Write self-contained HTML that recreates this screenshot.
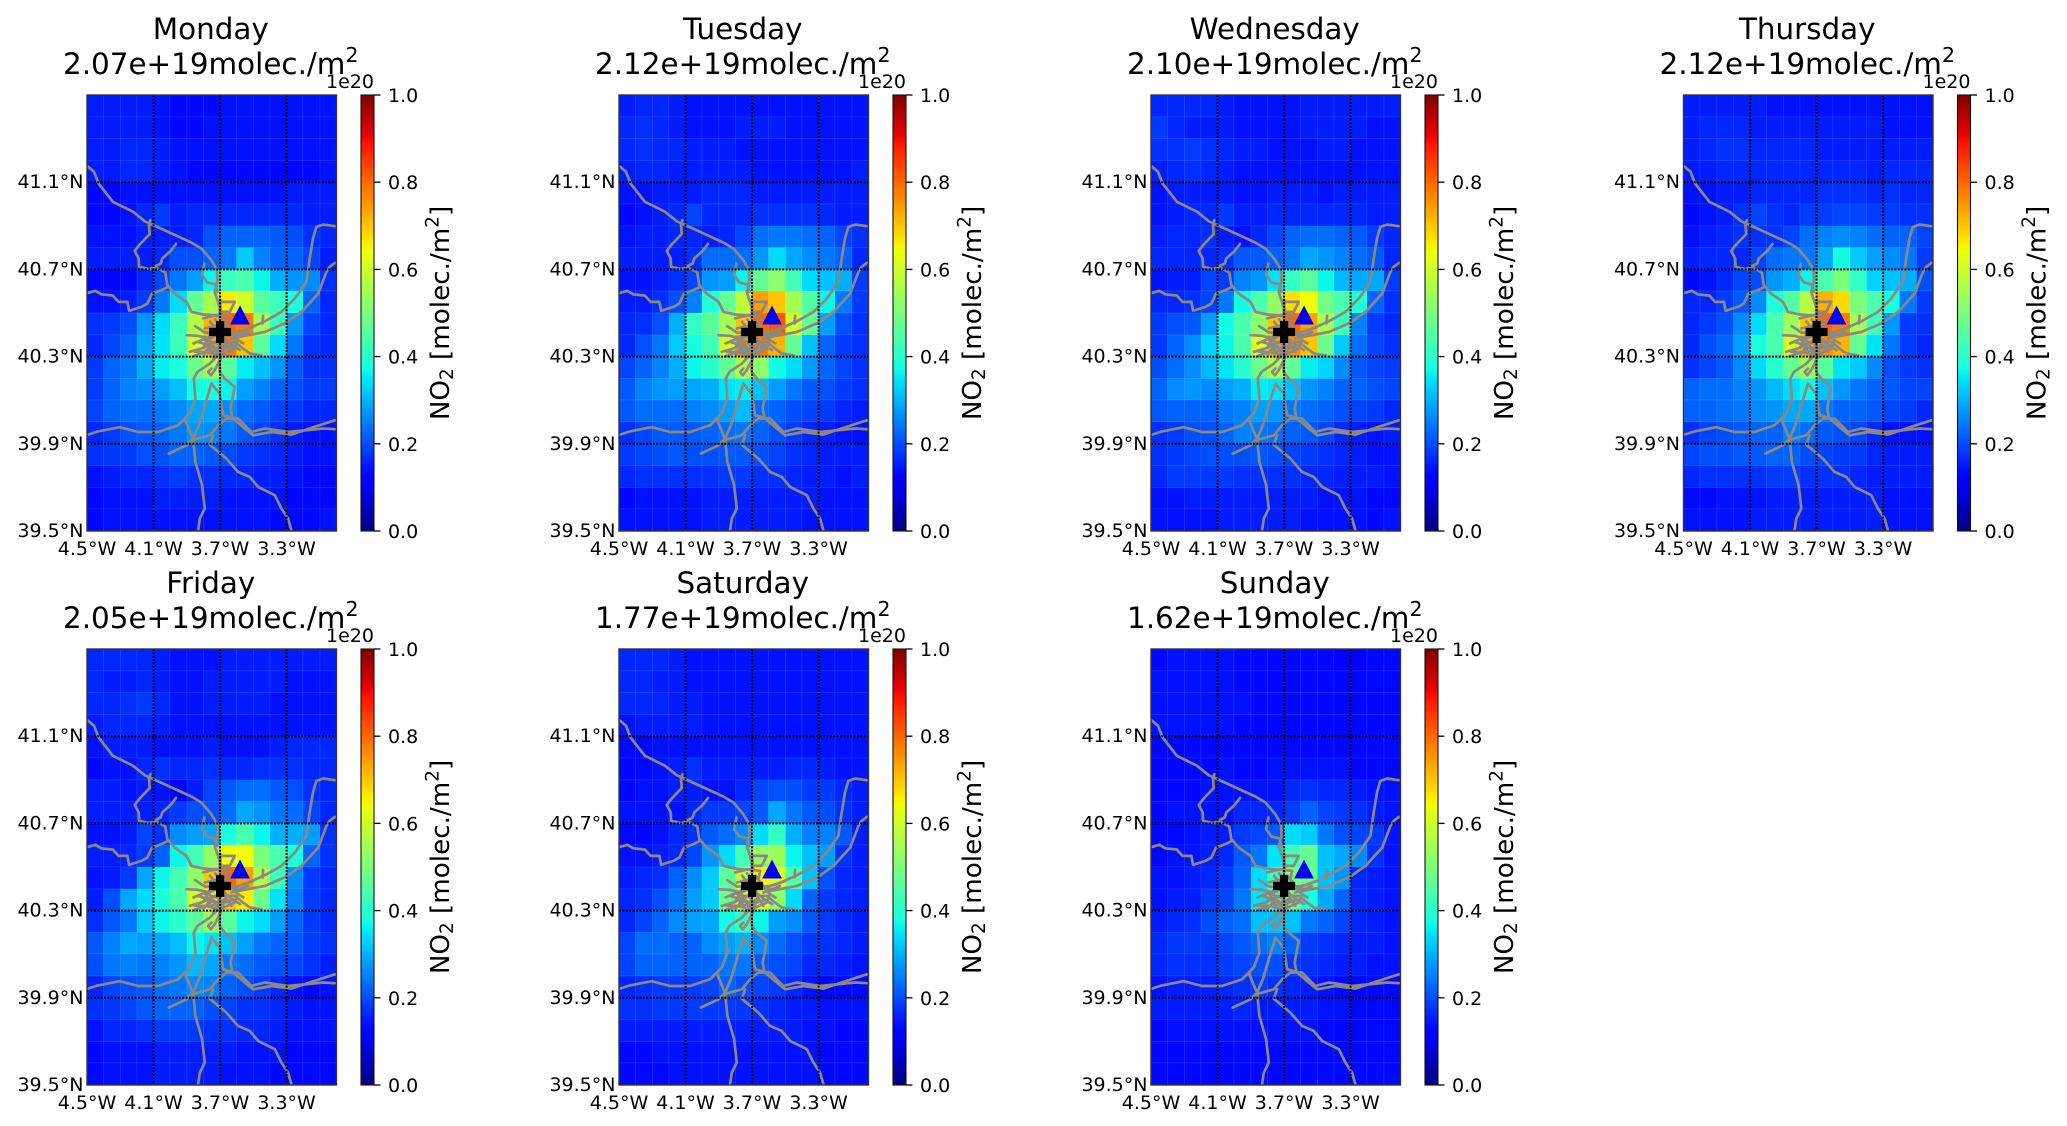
<!DOCTYPE html>
<html lang="en">
<head>
<meta charset="utf-8">
<title>Weekly NO2 column over Madrid</title>
<style>
html,body{margin:0;padding:0;background:#fff;}
svg{display:block;}
text{font-family:"DejaVu Sans","Liberation Sans",sans-serif;fill:#000;white-space:pre;}
</style>
</head>
<body>
<svg id="fig" xmlns="http://www.w3.org/2000/svg" width="2067" height="1126" viewBox="0 0 2067 1126">
<rect x="0" y="0" width="2067" height="1126" fill="#fff"/>
</svg>
<script>
const dayNames = ["Monday","Tuesday","Wednesday","Thursday","Friday","Saturday","Sunday"];
const dayMeans = ["2.07e+19","2.12e+19","2.10e+19","2.12e+19","2.05e+19","1.77e+19","1.62e+19"];
const lonTicks = [-4.5,-4.1,-3.7,-3.3];
const latTicks = [39.5,39.9,40.3,40.7,41.1];
const gridLons = [-4.1,-3.7,-3.3];
const gridLats = [39.9,40.3,40.7,41.1];
const colorbarTicks = [0,0.2,0.4,0.6,0.8,1.0];
const colorbarExponent = "1e20";
const siteCross = [-3.70,40.413];
const siteTriangle = [-3.58,40.49];

/* NO2 values in units of 1e20 molec./m2, rows north to south, columns west to east */
const monday = [
[.13,.13,.13,.13,.12,.11,.11,.11,.12,.12,.12,.12,.12,.12,.12],
[.13,.13,.13,.13,.12,.11,.11,.12,.12,.12,.12,.12,.12,.12,.12],
[.13,.13,.14,.14,.13,.12,.12,.12,.12,.12,.12,.12,.12,.12,.12],
[.13,.13,.14,.14,.13,.12,.11,.11,.11,.11,.11,.11,.11,.11,.12],
[.11,.11,.12,.12,.12,.12,.12,.12,.12,.12,.12,.12,.13,.13,.13],
[.11,.11,.12,.14,.16,.13,.14,.14,.14,.14,.14,.14,.14,.13,.13],
[.12,.12,.12,.13,.13,.13,.14,.18,.2,.2,.2,.19,.18,.15,.14],
[.13,.13,.13,.13,.14,.18,.18,.2,.22,.31,.23,.2,.2,.17,.13],
[.11,.11,.11,.14,.17,.22,.26,.36,.42,.44,.36,.28,.25,.24,.15],
[.12,.12,.13,.16,.22,.33,.47,.55,.66,.6,.46,.42,.38,.2,.14],
[.15,.16,.18,.25,.33,.42,.56,.72,.8,.78,.55,.42,.25,.17,.14],
[.14,.17,.2,.27,.34,.42,.6,.72,.78,.7,.46,.33,.22,.15,.14],
[.16,.2,.22,.28,.35,.38,.48,.55,.46,.35,.3,.25,.19,.15,.15],
[.16,.2,.23,.24,.26,.3,.37,.38,.36,.26,.23,.2,.18,.16,.16],
[.17,.2,.21,.21,.22,.24,.27,.27,.24,.21,.19,.17,.16,.14,.14],
[.14,.16,.18,.19,.2,.22,.25,.24,.22,.19,.17,.15,.13,.12,.12],
[.15,.16,.16,.18,.18,.2,.2,.19,.18,.16,.15,.14,.13,.12,.12],
[.12,.13,.14,.14,.15,.16,.15,.15,.14,.14,.13,.13,.12,.11,.11],
[.11,.12,.12,.12,.13,.13,.13,.13,.12,.12,.12,.12,.11,.11,.11],
[.11,.12,.12,.12,.12,.12,.12,.12,.12,.12,.12,.11,.11,.11,.12]];
const tuesday = [
[.13,.14,.14,.13,.12,.12,.12,.12,.12,.12,.12,.12,.12,.12,.12],
[.14,.15,.14,.13,.12,.12,.12,.13,.13,.13,.12,.12,.12,.12,.12],
[.14,.15,.14,.14,.13,.13,.13,.12,.12,.12,.12,.12,.12,.12,.12],
[.13,.14,.14,.13,.13,.13,.13,.13,.12,.12,.12,.12,.12,.12,.13],
[.12,.12,.13,.13,.13,.14,.14,.14,.13,.13,.13,.13,.13,.13,.13],
[.11,.12,.13,.14,.17,.14,.14,.14,.15,.15,.15,.15,.14,.13,.13],
[.12,.13,.13,.14,.14,.13,.14,.17,.21,.22,.22,.21,.2,.17,.15],
[.13,.13,.13,.13,.15,.21,.21,.21,.25,.33,.27,.24,.22,.2,.14],
[.12,.12,.13,.15,.17,.25,.26,.36,.47,.52,.43,.33,.3,.28,.16],
[.13,.13,.15,.18,.23,.39,.47,.58,.74,.7,.55,.45,.36,.22,.16],
[.14,.15,.18,.28,.41,.46,.55,.7,.8,.82,.6,.47,.26,.18,.15],
[.14,.18,.22,.31,.37,.43,.61,.76,.78,.72,.47,.3,.2,.16,.15],
[.17,.2,.23,.28,.36,.4,.47,.56,.52,.37,.33,.26,.2,.17,.15],
[.19,.23,.25,.26,.27,.28,.34,.35,.3,.26,.22,.19,.18,.16,.15],
[.19,.21,.21,.21,.23,.24,.26,.29,.21,.2,.18,.17,.16,.14,.13],
[.15,.17,.19,.19,.19,.2,.21,.22,.2,.18,.16,.14,.13,.12,.12],
[.16,.17,.18,.19,.18,.18,.19,.19,.18,.17,.15,.14,.13,.13,.13],
[.14,.15,.15,.15,.15,.15,.16,.16,.15,.15,.14,.13,.13,.12,.13],
[.11,.12,.12,.12,.12,.13,.13,.13,.13,.13,.13,.13,.12,.12,.12],
[.12,.12,.12,.12,.12,.13,.13,.13,.13,.13,.13,.12,.12,.12,.12]];
const wednesday = [
[.14,.14,.14,.14,.13,.12,.12,.12,.12,.13,.13,.13,.13,.13,.13],
[.16,.14,.13,.13,.13,.12,.12,.12,.12,.13,.13,.13,.13,.12,.12],
[.15,.15,.16,.15,.14,.13,.13,.12,.12,.12,.13,.13,.12,.12,.12],
[.13,.14,.15,.14,.13,.12,.12,.12,.12,.12,.12,.12,.12,.12,.12],
[.12,.13,.13,.13,.13,.12,.12,.13,.13,.13,.12,.13,.13,.13,.13],
[.12,.13,.14,.14,.16,.13,.13,.14,.14,.14,.14,.14,.14,.13,.13],
[.13,.14,.14,.15,.13,.12,.14,.17,.2,.21,.21,.2,.19,.16,.14],
[.14,.14,.14,.14,.15,.19,.19,.2,.22,.27,.25,.23,.21,.19,.14],
[.12,.13,.13,.17,.16,.23,.25,.34,.41,.46,.36,.29,.27,.27,.16],
[.14,.14,.15,.17,.22,.37,.44,.53,.67,.64,.49,.44,.39,.2,.15],
[.16,.18,.19,.26,.37,.44,.52,.7,.8,.74,.55,.42,.23,.16,.14],
[.16,.2,.24,.32,.36,.44,.62,.73,.76,.7,.48,.31,.21,.17,.15],
[.18,.21,.24,.29,.34,.4,.48,.55,.47,.35,.32,.24,.19,.17,.16],
[.2,.24,.25,.24,.26,.28,.35,.34,.3,.25,.23,.2,.2,.18,.17],
[.19,.2,.2,.2,.22,.23,.26,.25,.22,.21,.2,.18,.17,.16,.14],
[.15,.16,.18,.18,.2,.23,.22,.21,.2,.19,.17,.14,.13,.12,.13],
[.15,.16,.17,.18,.18,.18,.19,.18,.17,.16,.15,.14,.13,.12,.12],
[.14,.16,.16,.16,.16,.15,.15,.15,.15,.14,.14,.13,.13,.13,.12],
[.12,.12,.13,.13,.13,.13,.13,.13,.13,.13,.12,.12,.12,.11,.11],
[.12,.12,.12,.12,.13,.13,.13,.13,.13,.12,.12,.12,.12,.11,.12]];
const thursday = [
[.13,.13,.13,.13,.13,.12,.12,.12,.12,.12,.12,.12,.12,.12,.12],
[.13,.14,.14,.14,.13,.13,.13,.13,.13,.13,.13,.13,.12,.12,.12],
[.13,.14,.15,.15,.14,.14,.14,.14,.13,.13,.13,.13,.13,.13,.13],
[.13,.13,.14,.14,.14,.14,.14,.14,.14,.14,.14,.13,.14,.14,.14],
[.12,.12,.13,.13,.14,.14,.14,.14,.15,.15,.15,.14,.15,.14,.14],
[.11,.12,.13,.15,.17,.15,.14,.16,.16,.17,.17,.16,.16,.15,.15],
[.12,.13,.14,.15,.15,.15,.17,.21,.23,.24,.23,.21,.2,.2,.17],
[.13,.14,.14,.14,.17,.21,.22,.22,.27,.37,.31,.26,.24,.22,.16],
[.11,.12,.14,.17,.18,.25,.28,.36,.44,.5,.41,.32,.3,.28,.18],
[.14,.14,.16,.19,.24,.38,.45,.57,.72,.68,.5,.44,.38,.22,.16],
[.14,.16,.18,.24,.33,.44,.54,.7,.8,.78,.55,.42,.25,.16,.15],
[.14,.18,.2,.26,.38,.44,.61,.72,.76,.72,.47,.34,.22,.16,.14],
[.15,.17,.19,.24,.33,.4,.47,.54,.46,.34,.31,.24,.18,.16,.15],
[.2,.21,.21,.23,.25,.29,.33,.36,.3,.25,.22,.2,.19,.17,.17],
[.2,.2,.21,.22,.24,.25,.27,.27,.22,.2,.2,.19,.17,.16,.14],
[.15,.17,.18,.19,.2,.2,.23,.21,.19,.18,.17,.14,.12,.12,.12],
[.17,.18,.18,.19,.19,.2,.2,.18,.17,.16,.16,.14,.13,.13,.13],
[.14,.15,.15,.15,.15,.16,.16,.15,.15,.15,.14,.13,.13,.13,.13],
[.11,.11,.12,.12,.12,.13,.13,.13,.13,.13,.13,.13,.12,.12,.12],
[.12,.12,.12,.12,.13,.13,.13,.13,.13,.13,.13,.13,.12,.12,.12]];
const friday = [
[.14,.14,.14,.14,.13,.12,.12,.12,.13,.13,.13,.13,.13,.13,.13],
[.14,.13,.13,.14,.13,.12,.12,.13,.13,.13,.13,.13,.12,.12,.12],
[.14,.14,.15,.16,.14,.12,.12,.13,.13,.13,.13,.12,.12,.12,.12],
[.13,.14,.14,.14,.13,.12,.12,.12,.12,.12,.12,.12,.12,.12,.12],
[.12,.13,.13,.13,.12,.12,.12,.13,.12,.12,.12,.13,.14,.14,.14],
[.11,.12,.12,.14,.15,.14,.14,.15,.14,.14,.15,.15,.15,.14,.14],
[.13,.13,.12,.13,.12,.1,.13,.17,.19,.21,.21,.19,.18,.15,.14],
[.13,.13,.13,.13,.14,.16,.18,.18,.21,.27,.25,.22,.21,.17,.14],
[.12,.12,.13,.17,.15,.24,.26,.27,.38,.44,.36,.28,.28,.26,.15],
[.13,.13,.14,.16,.2,.36,.43,.53,.64,.64,.5,.44,.38,.2,.15],
[.12,.13,.16,.27,.36,.43,.52,.7,.8,.74,.56,.42,.24,.16,.14],
[.13,.18,.27,.33,.38,.44,.6,.66,.7,.66,.48,.34,.23,.16,.14],
[.15,.19,.22,.31,.36,.4,.46,.53,.46,.36,.33,.26,.2,.16,.14],
[.19,.23,.27,.26,.27,.3,.36,.34,.3,.26,.22,.2,.19,.16,.15],
[.18,.22,.23,.22,.23,.25,.29,.27,.22,.21,.19,.18,.17,.15,.13],
[.14,.17,.18,.19,.21,.22,.24,.23,.2,.18,.16,.14,.12,.11,.12],
[.15,.16,.17,.19,.2,.2,.2,.18,.17,.15,.15,.14,.13,.12,.12],
[.12,.14,.14,.15,.16,.16,.16,.15,.15,.14,.14,.13,.12,.12,.12],
[.11,.12,.12,.12,.13,.13,.13,.13,.13,.12,.12,.12,.11,.11,.11],
[.11,.12,.12,.12,.13,.13,.13,.13,.12,.12,.12,.11,.11,.11,.11]];
const saturday = [
[.14,.14,.14,.13,.12,.12,.12,.12,.12,.12,.12,.12,.12,.12,.12],
[.14,.14,.13,.13,.12,.12,.12,.12,.12,.12,.12,.12,.12,.12,.12],
[.14,.14,.14,.13,.13,.12,.12,.12,.12,.12,.12,.12,.12,.12,.12],
[.12,.13,.13,.13,.13,.12,.12,.12,.12,.12,.12,.12,.12,.12,.12],
[.11,.11,.12,.12,.12,.12,.12,.12,.12,.12,.12,.12,.12,.12,.12],
[.11,.11,.12,.13,.15,.13,.13,.13,.13,.13,.14,.14,.13,.12,.12],
[.11,.12,.12,.13,.13,.12,.12,.14,.17,.18,.18,.16,.16,.14,.13],
[.12,.12,.12,.12,.14,.16,.16,.17,.19,.27,.22,.19,.18,.15,.13],
[.11,.11,.12,.14,.15,.19,.21,.24,.33,.41,.28,.23,.23,.19,.13],
[.12,.12,.13,.14,.17,.25,.33,.43,.53,.54,.36,.3,.26,.15,.13],
[.13,.14,.15,.2,.24,.31,.46,.58,.65,.62,.45,.3,.18,.14,.13],
[.14,.15,.18,.22,.26,.31,.48,.6,.6,.52,.33,.2,.16,.14,.13],
[.14,.17,.2,.24,.26,.27,.37,.41,.36,.26,.24,.19,.16,.14,.13],
[.17,.21,.21,.2,.2,.24,.26,.28,.24,.21,.18,.16,.15,.14,.13],
[.17,.2,.2,.2,.2,.2,.22,.22,.19,.18,.17,.14,.14,.13,.12],
[.14,.15,.16,.16,.16,.17,.2,.18,.17,.16,.14,.12,.11,.11,.11],
[.15,.15,.16,.16,.16,.16,.16,.16,.15,.14,.13,.13,.12,.12,.12],
[.13,.13,.13,.13,.13,.13,.13,.13,.13,.13,.13,.12,.12,.11,.11],
[.11,.11,.12,.12,.12,.12,.12,.12,.12,.12,.12,.12,.11,.11,.11],
[.11,.11,.11,.12,.12,.12,.12,.12,.12,.12,.12,.12,.11,.11,.11]];
const sunday = [
[.11,.12,.12,.12,.12,.11,.11,.11,.11,.11,.11,.1,.1,.11,.11],
[.12,.12,.12,.12,.12,.11,.11,.11,.11,.11,.11,.11,.11,.11,.11],
[.12,.12,.12,.12,.12,.12,.11,.11,.11,.11,.11,.11,.11,.11,.11],
[.12,.12,.12,.12,.12,.11,.11,.11,.11,.11,.11,.11,.11,.11,.11],
[.11,.11,.11,.11,.11,.11,.11,.11,.11,.11,.11,.11,.11,.11,.11],
[.11,.11,.11,.11,.12,.11,.11,.12,.12,.12,.12,.12,.11,.11,.11],
[.11,.11,.11,.12,.12,.12,.12,.12,.14,.15,.14,.14,.13,.12,.12],
[.11,.12,.12,.12,.12,.14,.14,.14,.16,.2,.17,.16,.15,.13,.12],
[.11,.11,.12,.13,.13,.16,.17,.19,.33,.31,.22,.18,.17,.16,.12],
[.11,.12,.12,.13,.14,.19,.22,.34,.43,.47,.3,.27,.24,.15,.12],
[.12,.12,.13,.14,.16,.2,.33,.42,.5,.47,.3,.25,.14,.13,.12],
[.12,.13,.13,.16,.17,.22,.34,.43,.47,.38,.27,.2,.14,.13,.12],
[.13,.14,.15,.18,.2,.21,.3,.3,.3,.22,.2,.17,.14,.13,.12],
[.14,.16,.16,.16,.17,.19,.21,.23,.2,.16,.15,.14,.13,.13,.12],
[.14,.15,.15,.15,.16,.17,.18,.18,.16,.15,.14,.13,.13,.12,.12],
[.12,.13,.13,.13,.14,.15,.16,.15,.14,.13,.12,.11,.11,.11,.11],
[.13,.13,.13,.13,.13,.14,.13,.13,.13,.13,.12,.12,.11,.11,.11],
[.11,.12,.12,.12,.12,.12,.12,.12,.12,.12,.11,.11,.11,.11,.11],
[.11,.11,.11,.11,.11,.11,.11,.11,.11,.11,.11,.11,.11,.11,.11],
[.11,.11,.11,.11,.11,.11,.11,.11,.11,.11,.11,.11,.11,.11,.11]];
const dayGrids = [monday,tuesday,wednesday,thursday,friday,saturday,sunday];

/* road network digitised as [lon, lat] */
const roadNorthwest = [[-4.494,41.171],[-4.458,41.148],[-4.430,41.094],[-4.344,41.010],[-4.223,40.964],[-4.153,40.921],[-4.109,40.906],[-3.983,40.862],[-3.872,40.823],[-3.812,40.796],[-3.752,40.742],[-3.718,40.696],[-3.716,40.643],[-3.732,40.597],[-3.702,40.528],[-3.702,40.475]];
const roadLoop = [[-4.119,40.926],[-4.127,40.906],[-4.123,40.862],[-4.183,40.814],[-4.213,40.785],[-4.189,40.750],[-4.187,40.712],[-4.123,40.701],[-4.057,40.727],[-4.047,40.750],[-3.997,40.785],[-3.965,40.817]];
const roadLoopToCentre = [[-4.123,40.701],[-4.073,40.704],[-4.029,40.686],[-4.017,40.628],[-3.973,40.589],[-3.902,40.551],[-3.872,40.505],[-3.802,40.493],[-3.712,40.487]];
const roadWest = [[-4.494,40.592],[-4.450,40.602],[-4.414,40.586],[-4.344,40.580],[-4.310,40.551],[-4.257,40.551],[-4.247,40.510],[-4.173,40.528],[-4.137,40.543],[-4.109,40.589],[-4.053,40.605],[-4.009,40.621]];
const roadShortNorth = [[-3.794,40.727],[-3.808,40.674],[-3.776,40.640],[-3.728,40.631],[-3.716,40.597]];
const roadNortheast = [[-3.672,40.398],[-3.552,40.421],[-3.431,40.462],[-3.331,40.505],[-3.251,40.566],[-3.181,40.643],[-3.161,40.750],[-3.141,40.842],[-3.121,40.895],[-3.080,40.906],[-3.010,40.898]];
const roadEast = [[-3.592,40.390],[-3.431,40.413],[-3.301,40.456],[-3.211,40.505],[-3.110,40.589],[-3.060,40.689],[-3.040,40.712],[-3.010,40.730]];
const roadSouthwest = [[-3.702,40.406],[-3.712,40.306],[-3.762,40.268],[-3.836,40.230],[-3.858,40.199],[-3.848,40.107],[-3.882,40.039],[-3.953,39.985],[-4.073,39.954],[-4.193,39.954],[-4.304,39.976],[-4.434,39.957],[-4.494,39.942]];
const roadToledo = [[-3.752,40.176],[-3.782,40.100],[-3.828,39.985],[-3.862,39.924],[-3.902,39.893],[-4.009,39.855]];
const roadSouth = [[-3.909,40.008],[-3.872,39.939],[-3.862,39.924],[-3.848,39.817],[-3.808,39.710],[-3.792,39.603],[-3.822,39.557],[-3.832,39.503]];
const roadSoutheast = [[-3.702,40.322],[-3.702,40.230],[-3.672,40.199],[-3.612,40.161],[-3.636,40.062],[-3.626,40.019],[-3.552,39.970],[-3.501,39.939],[-3.391,39.954],[-3.271,39.942],[-3.151,39.973],[-3.010,40.008]];
const roadConnector = [[-3.752,40.176],[-3.702,40.130],[-3.682,40.031],[-3.626,40.019]];
const roadEastWest = [[-3.872,39.916],[-3.762,39.939],[-3.712,39.985],[-3.662,40.016],[-3.592,40.016],[-3.512,39.954],[-3.431,39.970],[-3.291,39.954],[-3.080,39.970],[-3.010,39.967]];
const roadFarSouth = [[-3.742,39.939],[-3.762,39.896],[-3.662,39.832],[-3.592,39.771],[-3.522,39.748],[-3.471,39.702],[-3.371,39.664],[-3.331,39.603],[-3.291,39.557],[-3.271,39.503]];
const cityAcross = [[-3.902,40.398],[-3.832,40.395],[-3.762,40.383],[-3.702,40.406],[-3.592,40.413],[-3.501,40.436]];
const cityLower = [[-3.882,40.322],[-3.812,40.337],[-3.732,40.368],[-3.612,40.368],[-3.562,40.337],[-3.521,40.314],[-3.451,40.306]];
const cityBottom = [[-3.862,40.301],[-3.792,40.322],[-3.702,40.306],[-3.612,40.337],[-3.592,40.375]];
const cityNorth = [[-3.702,40.551],[-3.612,40.551],[-3.642,40.505],[-3.692,40.505],[-3.702,40.475]];
const citySpur = [[-3.441,40.487],[-3.445,40.452]];
const cityRing = [[-3.802,40.475],[-3.722,40.490],[-3.652,40.482],[-3.662,40.444]];
const cityRadial = [[-3.792,40.383],[-3.752,40.322],[-3.672,40.352],[-3.702,40.276]];
const citySmallLoop = [[-3.752,40.245],[-3.772,40.230],[-3.756,40.214],[-3.732,40.237],[-3.702,40.283]];
const cityWestA = [[-3.792,40.429],[-3.712,40.444]];
const cityWestB = [[-3.832,40.368],[-3.712,40.337]];
const cityEastA = [[-3.632,40.383],[-3.532,40.413]];
const cityEastB = [[-3.672,40.368],[-3.632,40.322]];
const cityWestC = [[-3.752,40.368],[-3.782,40.322],[-3.852,40.322]];
const cityInnerA = [[-3.85,40.44],[-3.79,40.41],[-3.70,40.41]];
const cityInnerB = [[-3.86,40.36],[-3.80,40.38],[-3.72,40.36]];
const cityInnerC = [[-3.80,40.34],[-3.76,40.40]];
const cityInnerD = [[-3.66,40.44],[-3.60,40.38],[-3.56,40.36]];
const cityInnerE = [[-3.70,40.40],[-3.64,40.36],[-3.58,40.33]];
const cityInnerF = [[-3.76,40.46],[-3.72,40.42]];
const cityInnerG = [[-3.68,40.46],[-3.64,40.42]];
const cityInnerH = [[-3.80,40.31],[-3.74,40.35]];
const cityInnerI = [[-3.72,40.30],[-3.68,40.34]];
const cityInnerJ = [[-3.64,40.40],[-3.54,40.40]];
const cityInnerK = [[-3.70,40.56],[-3.695,40.48]];
const cityInnerL = [[-3.73,40.47],[-3.69,40.44]];
const cityInnerM = [[-3.74,40.29],[-3.70,40.36]];
const cityInnerN = [[-3.78,40.35],[-3.70,40.33],[-3.62,40.35]];
const roads = [roadNorthwest,roadLoop,roadLoopToCentre,roadWest,roadShortNorth,roadNortheast,roadEast,roadSouthwest,roadToledo,roadSouth,roadSoutheast,roadConnector,roadEastWest,roadFarSouth,cityAcross,cityLower,cityBottom,cityNorth,citySpur,cityRing,cityRadial,citySmallLoop,cityWestA,cityWestB,cityEastA,cityEastB,cityWestC,cityInnerA,cityInnerB,cityInnerC,cityInnerD,cityInnerE,cityInnerF,cityInnerG,cityInnerH,cityInnerI,cityInnerJ,cityInnerK,cityInnerL,cityInnerM,cityInnerN];

const NS = "http://www.w3.org/2000/svg";
const fig = document.getElementById("fig");
const LON0 = -4.5, LON1 = -3.0, LAT0 = 39.5, LAT1 = 41.5, CELL = 0.1;
const AX_W = 249.5, AX_H = 436;
const panelLeft = [87,619,1151,1683.5,87,619,1151];
const panelTop = [95,95,95,95,649,649,649];
/* my colour readings ran low at the blue end; lift them, fading out by 0.4 */
const lowEndLift = 0.022;

function make(tag, attrs, parent){
  const el = document.createElementNS(NS, tag);
  for(const k in attrs){ el.setAttribute(k, attrs[k]); }
  if(parent){ parent.appendChild(el); }
  return el;
}
function lerpStops(stops, v){
  for(let i=1;i<stops.length;i++){
    if(v<=stops[i][0]){
      const a=stops[i-1], b=stops[i];
      return a[1]+(b[1]-a[1])*(v-a[0])/(b[0]-a[0]);
    }
  }
  return stops[stops.length-1][1];
}
const jetR=[[0,0],[.35,0],[.66,1],[.89,1],[1,.5]];
const jetG=[[0,0],[.125,0],[.375,1],[.64,1],[.91,0],[1,0]];
const jetB=[[0,.5],[.11,1],[.34,1],[.65,0],[1,0]];
function jet(v){
  v=Math.max(0,Math.min(1,v));
  return "rgb("+Math.round(255*lerpStops(jetR,v))+","+Math.round(255*lerpStops(jetG,v))+","+Math.round(255*lerpStops(jetB,v))+")";
}
function cellColour(v){
  const fade=Math.max(0,Math.min(1,(0.4-v)/0.15));
  return jet(v+lowEndLift*fade);
}

/* shared colour ramp */
const defs = make("defs",{},fig);
const ramp = make("linearGradient",{id:"jetRamp",x1:"0",y1:"1",x2:"0",y2:"0"},defs);
for(let i=0;i<=64;i++){
  make("stop",{offset:(i/64).toFixed(4),"stop-color":jet(i/64)},ramp);
}

function lonLabel(v){ return Math.abs(v).toFixed(1)+"°W"; }
function latLabel(v){ return v.toFixed(1)+"°N"; }

function drawPanel(p){
  const left=panelLeft[p], top=panelTop[p];
  const xOf=lon=>left+(lon-LON0)/(LON1-LON0)*AX_W;
  const yOf=lat=>top+(LAT1-lat)/(LAT1-LAT0)*AX_H;
  const cOf=v=>top+AX_H*(1-v);
  const centre=left+AX_W/2-1;

  const g=make("g",{},fig);
  
  

  /* title */
  const t1=make("text",{x:centre,y:top-56,"text-anchor":"middle","font-size":29.4},g);
  
  
  t1.textContent=dayNames[p];
  const t2=make("text",{x:centre,y:top-21,"text-anchor":"middle","font-size":29.4},g);
  
  
  t2.appendChild(document.createTextNode(dayMeans[p]+"molec./m"));
  const sup=make("tspan",{dy:-12,"font-size":20.5},t2);
  sup.textContent="2";

  /* heatmap */
  const heat=make("g",{"shape-rendering":"crispEdges"},g);
  
  
  dayGrids[p].forEach((row,r)=>{
    row.forEach((val,c)=>{
      const x0=xOf(LON0+c*CELL), x1=xOf(LON0+(c+1)*CELL);
      const y0=yOf(LAT1-r*CELL), y1=yOf(LAT1-(r+1)*CELL);
      const cell=make("rect",{x:x0.toFixed(2),y:y0.toFixed(2),width:(x1-x0).toFixed(2),height:(y1-y0).toFixed(2),fill:cellColour(val),stroke:"rgba(255,255,255,0.07)","stroke-width":1},heat);
      
      
    });
  });

  /* roads */
  const roadGroup=make("g",{fill:"none",stroke:"#8d8880","stroke-width":2.7,"stroke-linejoin":"round","stroke-linecap":"round"},g);
  
  
  roads.forEach(pts=>{
    const line=make("polyline",{points:pts.map(q=>xOf(q[0]).toFixed(1)+","+yOf(q[1]).toFixed(1)).join(" ")},roadGroup);
    
    
  });

  /* gridlines */
  const gridGroup=make("g",{stroke:"#000","stroke-width":2,"stroke-dasharray":"2 1.4",fill:"none"},g);
  
  
  gridLons.forEach(lon=>{
    const l=make("line",{x1:xOf(lon),x2:xOf(lon),y1:top,y2:top+AX_H},gridGroup);
    
    
  });
  gridLats.forEach(lat=>{
    const l=make("line",{x1:left,x2:left+AX_W,y1:yOf(lat),y2:yOf(lat)},gridGroup);
    
    
  });

  /* site markers */
  const cx=xOf(siteCross[0]), cy=yOf(siteCross[1]), a=11, b=4.1;
  const cross=make("path",{fill:"#000",d:"M"+(cx-b)+" "+(cy-a)+"H"+(cx+b)+"V"+(cy-b)+"H"+(cx+a)+"V"+(cy+b)+"H"+(cx+b)+"V"+(cy+a)+"H"+(cx-b)+"V"+(cy+b)+"H"+(cx-a)+"V"+(cy-b)+"H"+(cx-b)+"Z"},g);
  
  
  const tx=xOf(siteTriangle[0]), ty=yOf(siteTriangle[1]);
  const tri=make("polygon",{fill:"#0000f2",points:tx+","+(ty-9.7)+" "+(tx+9.9)+","+(ty+9.3)+" "+(tx-9.9)+","+(ty+9.3)},g);
  
  

  /* axes frame */
  const frame=make("rect",{x:left,y:top,width:AX_W,height:AX_H,fill:"none",stroke:"#333","stroke-width":1.4},g);
  
  

  /* tick labels */
  lonTicks.forEach(v=>{
    const tl=make("text",{x:xOf(v),y:top+AX_H+24,"text-anchor":"middle","font-size":19},g);
    
    
    tl.textContent=lonLabel(v);
  });
  latTicks.forEach(v=>{
    const tl=make("text",{x:left-3.5,y:yOf(v)+6,"text-anchor":"end","font-size":19},g);
    
    
    tl.textContent=latLabel(v);
  });

  /* colorbar */
  const cbLeft=left+274, cbW=13;
  const bar=make("rect",{x:cbLeft,y:top,width:cbW,height:AX_H,fill:"url(#jetRamp)",stroke:"#111","stroke-width":1.1},g);
  
  
  colorbarTicks.forEach(v=>{
    const tk=make("line",{x1:cbLeft+cbW,x2:cbLeft+cbW+6.5,y1:cOf(v),y2:cOf(v),stroke:"#000","stroke-width":1.3},g);
    
    
    const tl=make("text",{x:cbLeft+cbW+14,y:cOf(v)+7,"font-size":19},g);
    
    
    tl.textContent=v.toFixed(1);
  });
  const off=make("text",{x:cbLeft+cbW,y:top-7,"text-anchor":"end","font-size":19},g);
  
  
  off.textContent=colorbarExponent;

  const lx=left+362, ly=top+AX_H/2;
  const lab=make("text",{x:lx,y:ly,"text-anchor":"middle","font-size":26.2,transform:"rotate(-90 "+lx+" "+ly+")"},g);
  
  
  lab.appendChild(document.createTextNode("NO"));
  const s1=make("tspan",{dy:4,"font-size":18.4},lab);
  s1.textContent="2";
  const s2=make("tspan",{dy:-4},lab);
  s2.textContent=" [molec./m";
  const s3=make("tspan",{dy:-10.5,"font-size":18.4},lab);
  s3.textContent="2";
  const s4=make("tspan",{dy:10.5},lab);
  s4.textContent="]";
}
dayNames.forEach((_,p)=>drawPanel(p));
</script>
</body>
</html>
